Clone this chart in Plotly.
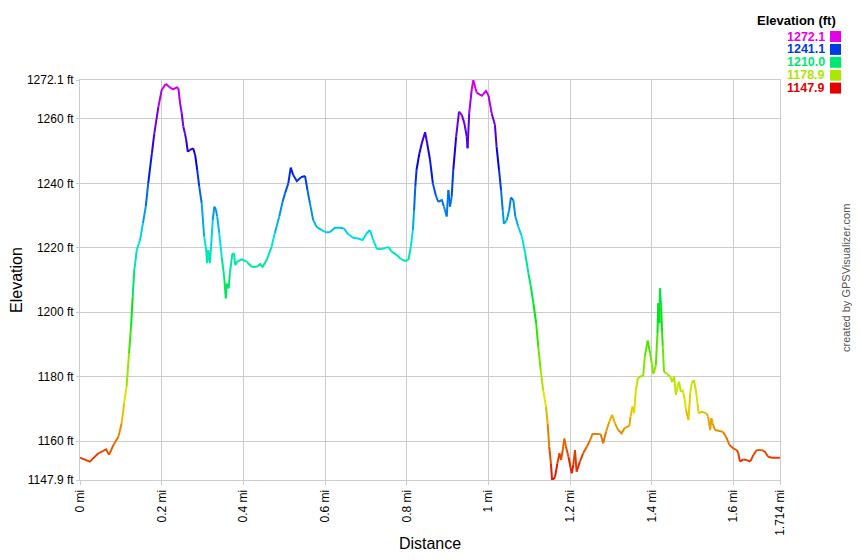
import colorsys
import plotly.graph_objects as go

# ---- data ----
distance_mi = [
    0.000, 0.024, 0.045, 0.064, 0.071, 0.082, 0.094, 0.102, 0.108, 0.114,
    0.120, 0.125, 0.129, 0.133, 0.139, 0.147, 0.154, 0.161, 0.167, 0.176,
    0.182, 0.192, 0.200, 0.210, 0.220, 0.228, 0.237, 0.241, 0.245, 0.249,
    0.253, 0.257, 0.260, 0.264, 0.269, 0.277, 0.282, 0.287, 0.292, 0.298,
    0.304, 0.309, 0.311, 0.314, 0.318, 0.321, 0.325, 0.329, 0.333, 0.336,
    0.341, 0.347, 0.353, 0.357, 0.359, 0.364, 0.367, 0.373, 0.377, 0.380,
    0.385, 0.396, 0.408, 0.420, 0.433, 0.441, 0.447, 0.457, 0.469, 0.477,
    0.488, 0.496, 0.502, 0.510, 0.516, 0.522, 0.531, 0.541, 0.551, 0.557,
    0.563, 0.571, 0.580, 0.592, 0.602, 0.612, 0.624, 0.637, 0.646, 0.657,
    0.669, 0.681, 0.692, 0.702, 0.710, 0.718, 0.727, 0.739, 0.755, 0.763,
    0.775, 0.786, 0.796, 0.804, 0.810, 0.815, 0.818, 0.821, 0.824, 0.831,
    0.837, 0.845, 0.850, 0.857, 0.864, 0.871, 0.877, 0.886, 0.891, 0.898,
    0.902, 0.906, 0.910, 0.914, 0.921, 0.928, 0.935, 0.941, 0.947, 0.949,
    0.953, 0.959, 0.963, 0.971, 0.984, 0.994, 1.000, 1.008, 1.016, 1.020,
    1.026, 1.031, 1.035, 1.038, 1.045, 1.051, 1.055, 1.061, 1.066, 1.073,
    1.082, 1.090, 1.098, 1.104, 1.110, 1.117, 1.122, 1.128, 1.134, 1.141,
    1.145, 1.149, 1.153, 1.156, 1.163, 1.169, 1.174, 1.178, 1.182, 1.186,
    1.190, 1.196, 1.204, 1.208, 1.212, 1.216, 1.224, 1.232, 1.241, 1.249,
    1.255, 1.265, 1.275, 1.281, 1.288, 1.296, 1.303, 1.310, 1.318, 1.326,
    1.334, 1.345, 1.348, 1.353, 1.357, 1.361, 1.366, 1.375, 1.379, 1.383,
    1.390, 1.396, 1.400, 1.404, 1.410, 1.414, 1.416, 1.419, 1.420, 1.423,
    1.425, 1.427, 1.430, 1.436, 1.445, 1.450, 1.455, 1.459, 1.464, 1.467,
    1.471, 1.476, 1.480, 1.484, 1.490, 1.494, 1.498, 1.503, 1.508, 1.512,
    1.515, 1.522, 1.534, 1.538, 1.543, 1.546, 1.549, 1.555, 1.563, 1.574,
    1.582, 1.590, 1.600, 1.608, 1.612, 1.616, 1.624, 1.633, 1.641, 1.649,
    1.657, 1.669, 1.677, 1.685, 1.694, 1.714,
]

elevation_ft = [
    1154.8, 1153.6, 1156.2, 1157.4, 1155.7, 1158.8, 1161.3, 1165.5, 1171.7, 1176.9,
    1187.2, 1195.5, 1204.8, 1213.1, 1219.3, 1222.4, 1227.6, 1232.8, 1240.0, 1249.3,
    1255.5, 1263.8, 1269.0, 1270.9, 1269.8, 1269.2, 1269.8, 1269.5, 1264.9, 1261.8,
    1257.6, 1255.5, 1253.5, 1249.8, 1250.4, 1250.9, 1248.8, 1244.2, 1239.0, 1233.8,
    1223.5, 1219.3, 1215.2, 1219.3, 1215.2, 1220.3, 1228.6, 1232.8, 1231.7, 1229.7,
    1224.5, 1217.2, 1211.0, 1204.3, 1208.9, 1207.4, 1212.1, 1218.1, 1218.3, 1214.7,
    1215.7, 1216.4, 1215.7, 1214.1, 1214.1, 1214.9, 1214.1, 1216.2, 1220.3, 1224.5,
    1229.7, 1234.3, 1236.9, 1240.0, 1244.9, 1242.6, 1240.7, 1241.9, 1242.3, 1237.9,
    1233.8, 1228.6, 1226.4, 1225.5, 1224.8, 1224.8, 1226.2, 1226.2, 1226.0, 1224.2,
    1223.1, 1222.9, 1222.4, 1224.5, 1225.5, 1222.4, 1219.6, 1219.6, 1220.3, 1218.8,
    1217.8, 1216.5, 1215.9, 1216.2, 1220.3, 1225.5, 1231.7, 1239.0, 1244.2, 1249.3,
    1252.5, 1255.9, 1252.5, 1247.3, 1240.0, 1236.4, 1234.3, 1234.8, 1232.8, 1229.7,
    1237.9, 1232.8, 1235.9, 1244.2, 1254.5, 1262.3, 1261.2, 1258.7, 1254.5, 1250.9,
    1261.8, 1269.0, 1272.1, 1268.2, 1267.2, 1268.7, 1267.4, 1261.8, 1258.1, 1251.4,
    1244.2, 1237.9, 1231.7, 1227.4, 1228.6, 1231.7, 1235.6, 1234.8, 1229.7, 1226.6,
    1223.5, 1218.3, 1212.1, 1207.9, 1202.8, 1196.6, 1189.3, 1182.1, 1175.8, 1170.7,
    1165.5, 1158.2, 1153.1, 1147.9, 1148.7, 1153.1, 1156.2, 1154.1, 1157.2, 1160.8,
    1158.2, 1155.1, 1150.0, 1152.6, 1157.2, 1150.5, 1153.6, 1156.2, 1158.2, 1160.3,
    1162.2, 1162.2, 1162.1, 1159.3, 1162.9, 1166.0, 1168.1, 1165.5, 1163.4, 1162.4,
    1164.1, 1164.7, 1167.6, 1170.7, 1168.6, 1175.8, 1179.5, 1180.2, 1180.2, 1186.2,
    1191.2, 1187.2, 1184.1, 1180.8, 1183.6, 1193.5, 1202.8, 1196.6, 1207.4, 1201.7,
    1194.5, 1189.3, 1181.5, 1181.0, 1180.0, 1178.4, 1180.0, 1174.3, 1177.4, 1178.4,
    1175.3, 1175.8, 1173.3, 1169.6, 1166.5, 1174.8, 1177.9, 1178.9, 1175.8, 1171.7,
    1168.6, 1169.1, 1168.6, 1167.6, 1163.4, 1167.1, 1165.5, 1163.4, 1163.2, 1162.9,
    1161.3, 1158.8, 1157.7, 1157.2, 1156.2, 1153.6, 1154.3, 1154.1, 1153.6, 1155.7,
    1157.2, 1157.2, 1156.7, 1155.1, 1154.8, 1154.8,
]

y_tick_values = [1147.9, 1160, 1180, 1200, 1220, 1240, 1260, 1272.1]
y_tick_labels = ["1147.9 ft", "1160 ft", "1180 ft", "1200 ft", "1220 ft",
                 "1240 ft", "1260 ft", "1272.1 ft"]
x_tick_values = [0, 0.2, 0.4, 0.6, 0.8, 1.0, 1.2, 1.4, 1.6, 1.714]
x_tick_labels = ["0 mi", "0.2 mi", "0.4 mi", "0.6 mi", "0.8 mi", "1 mi",
                 "1.2 mi", "1.4 mi", "1.6 mi", "1.714 mi"]
legend_values = [1272.1, 1241.1, 1210.0, 1178.9, 1147.9]

E_MIN, E_MAX = 1147.9, 1272.1
FONT = "Liberation Sans, Arial, sans-serif"

# The page body adds an 8px margin; keep the figure inside the 860x560 window
OFF = 8
FIG_W, FIG_H = 860 - OFF, 560 - 2 * OFF
PL, PT, PW, PH = 80, 80, 700, 400   # desired plot area in window pixels


def color_for(e):
    t = (e - E_MIN) / (E_MAX - E_MIN)
    t = max(0.0, min(1.0, t))
    r, g, b = colorsys.hsv_to_rgb(300.0 * t / 360.0, 1.0, 0.9)
    return "rgb(%d,%d,%d)" % (round(r * 255), round(g * 255), round(b * 255))


N_BINS = 90


def bin_for(e):
    t = (e - E_MIN) / (E_MAX - E_MIN)
    t = max(0.0, min(1.0, t))
    return int(round(t * (N_BINS - 1)))


def px(x):
    return (x - PL) / PW


def py(y):
    return (PT + PH - y) / PH


# Build runs of consecutive segments with same colour bin
runs = []  # (bin, [indices])
for i in range(len(distance_mi) - 1):
    b = bin_for((elevation_ft[i] + elevation_ft[i + 1]) / 2.0)
    if runs and runs[-1][0] == b:
        runs[-1][1].append(i + 1)
    else:
        runs.append((b, [i, i + 1]))

bins = {}
for b, idx in runs:
    xs, ys = bins.setdefault(b, ([], []))
    if xs:
        xs.append(None)
        ys.append(None)
    xs.extend(distance_mi[k] for k in idx)
    ys.extend(elevation_ft[k] for k in idx)

fig = go.Figure()
for b in sorted(bins):
    xs, ys = bins[b]
    e_mid = E_MIN + (E_MAX - E_MIN) * b / (N_BINS - 1)
    fig.add_trace(go.Scatter(
        x=xs, y=ys, mode="lines",
        line=dict(color=color_for(e_mid), width=2),
        showlegend=False, hoverinfo="skip", connectgaps=False,
    ))

fig.update_layout(
    width=FIG_W, height=FIG_H,
    margin=dict(l=PL - OFF, r=FIG_W - (PL + PW - OFF), t=PT - OFF,
                b=FIG_H - (PT + PH - OFF), autoexpand=False),
    paper_bgcolor="white", plot_bgcolor="white",
    font=dict(family=FONT, size=12, color="#000"),
    xaxis=dict(
        range=[0, 1.714], tickvals=x_tick_values, ticktext=x_tick_labels,
        tickangle=-90, showgrid=True, gridcolor="#cccccc", gridwidth=1,
        showline=True, linecolor="#cccccc", linewidth=1, mirror=True,
        ticks="outside", ticklen=4, tickcolor="#cccccc", automargin=False,
        zeroline=False, tickfont=dict(size=12, color="#000"),
        title=dict(text="Distance", font=dict(size=16, color="#000"), standoff=8),
    ),
    yaxis=dict(
        range=[E_MIN, E_MAX], tickvals=y_tick_values, ticktext=y_tick_labels,
        showgrid=True, gridcolor="#cccccc", gridwidth=1,
        showline=True, linecolor="#cccccc", linewidth=1, mirror=True,
        ticks="outside", ticklen=3, tickcolor="#cccccc", automargin=False,
        zeroline=False, tickfont=dict(size=12, color="#000"),
        title=dict(text="Elevation", font=dict(size=16, color="#000"), standoff=0),
    ),
)

# Legend (colour key) at top right
fig.add_annotation(
    xref="paper", yref="paper", x=px(838), y=py(20),
    xanchor="right", yanchor="middle", showarrow=False,
    text="<b>Elevation (ft)</b>", font=dict(size=13, color="#000", family=FONT),
)
for i, v in enumerate(legend_values):
    yc = 36.5 + i * 12.9
    col = color_for(v)
    fig.add_annotation(
        xref="paper", yref="paper", x=px(827), y=py(yc),
        xanchor="right", yanchor="middle", showarrow=False, height=12,
        text="<b>%.1f</b>" % v, font=dict(size=12.5, color=col, family=FONT),
    )
    fig.add_shape(
        type="rect", xref="paper", yref="paper",
        x0=px(830), x1=px(841),
        y0=py(yc + 5.5), y1=py(yc - 5.5),
        fillcolor=col, line=dict(width=0),
    )

# Credit text
fig.add_annotation(
    xref="paper", yref="paper", x=px(846), y=py(278),
    xanchor="center", yanchor="middle", showarrow=False, textangle=-90,
    text="created by GPSVisualizer.com", font=dict(size=11, color="#555", family=FONT),
)

fig.write_html("out.html")
